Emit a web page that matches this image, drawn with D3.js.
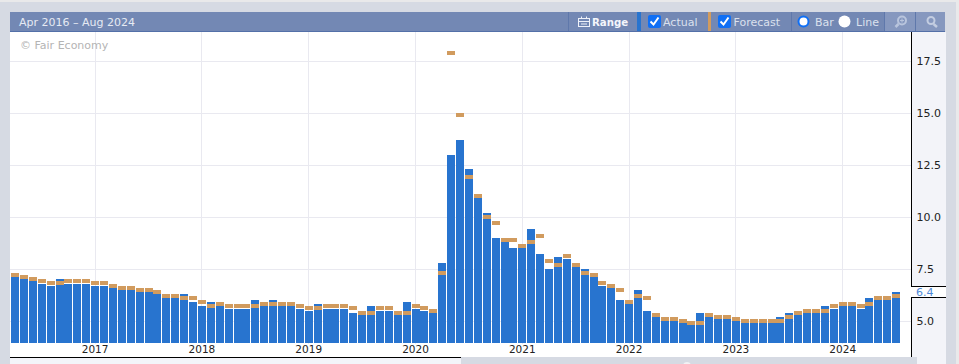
<!DOCTYPE html>
<html><head><meta charset="utf-8">
<script src="https://cdn.jsdelivr.net/npm/d3@7"></script>
<style>html,body{margin:0;padding:0;background:#d6dae3;overflow:hidden}svg{display:block}text{font-family:"DejaVu Sans",sans-serif}</style>
</head><body><div id="chart"></div>
<script>
const startMonth = new Date(2016, 3, 1);
const rangeLabel = "Apr 2016 – Aug 2024";
const actual = [7.1,7.0,6.9,6.8,6.7,7.0,6.8,6.8,6.8,6.7,6.7,6.6,6.5,6.5,6.4,6.4,6.3,6.1,6.1,6.3,5.9,5.7,5.9,5.7,5.6,5.6,5.6,6.0,5.7,6.0,5.7,5.7,5.6,5.5,5.8,5.6,5.6,5.6,5.4,5.4,5.7,5.5,5.5,5.4,5.9,5.6,5.5,5.45,7.8,13.0,13.7,12.3,10.9,10.2,9.0,8.8,8.5,8.5,9.4,8.2,7.5,8.1,8.0,7.6,7.5,7.1,6.7,6.6,6.0,5.8,6.5,5.5,5.2,5.0,5.0,4.9,4.8,5.4,5.2,5.1,5.1,5.0,4.9,4.9,4.9,4.9,5.2,5.4,5.3,5.4,5.4,5.7,5.6,5.7,5.7,5.6,6.1,6.0,6.0,6.4];
const forecast = [7.3,7.2,7.1,7.0,6.9,6.9,7.0,7.0,7.0,6.9,6.9,6.8,6.7,6.7,6.6,6.6,6.5,6.3,6.3,6.2,6.2,6.0,5.8,5.9,5.8,5.8,5.8,5.8,5.9,5.9,5.9,5.9,5.8,5.7,5.7,5.8,5.8,5.8,5.7,5.5,5.5,5.7,5.7,5.5,5.5,5.8,5.7,5.6,7.4,18.0,15.0,12.0,11.1,10.1,9.8,9.0,9.0,8.7,8.9,9.2,8.0,7.8,8.2,7.8,7.4,7.3,6.9,6.8,6.6,6.0,6.3,6.2,5.4,5.2,5.2,5.1,5.0,5.0,5.4,5.3,5.3,5.2,5.1,5.1,5.1,5.1,5.1,5.3,5.5,5.6,5.6,5.6,5.8,5.9,5.9,5.8,5.9,6.2,6.2,6.3];
const yTicks = [5,7.5,10,12.5,15,17.5];
const xYears = [2017,2018,2019,2020,2021,2022,2023,2024];
const lastValue = 6.4;

const W = 959, H = 364;
const months = d3.range(actual.length + 1).map(i => d3.timeMonth.offset(startMonth, i));
const x = d3.scaleBand().domain(months.map(Number)).range([10.55, 10.55 + 8.9 * months.length]);
const y = d3.scaleLinear().domain([5, 17.5]).range([321, 61]);
const base = y.invert(343);
const yPx = v => Math.round(y(v));

const svg = d3.select("#chart").append("svg").attr("width", W).attr("height", H);
// page frame
svg.append("rect").attr("width", W).attr("height", H).attr("fill", "#d6dae3");
svg.append("rect").attr("width", W).attr("height", 2).attr("fill", "#e9e9ea");
svg.append("rect").attr("x", 956).attr("width", 3).attr("height", H).attr("fill", "#e9e9ea");
// plot and axis panel
svg.append("rect").attr("x", 10).attr("y", 32).attr("width", 902).attr("height", 325).attr("fill", "#fff");
svg.append("rect").attr("x", 912).attr("y", 32).attr("width", 34).attr("height", 254).attr("fill", "#f3f4f9");
svg.append("rect").attr("x", 912).attr("y", 286).attr("width", 34).attr("height", 11).attr("fill", "#fff");
svg.append("rect").attr("x", 912).attr("y", 297).attr("width", 34).attr("height", 67).attr("fill", "#f3f4f9");
svg.append("rect").attr("x", 10).attr("y", 357).attr("width", 451).attr("height", 7).attr("fill", "#f3f4f9");

// grid
const g = svg.append("g").attr("shape-rendering", "crispEdges");
g.selectAll("line.h").data(yTicks).join("line").attr("class", "h")
  .attr("x1", 10).attr("x2", 911).attr("y1", d => y(d)).attr("y2", d => y(d))
  .attr("stroke", "#e9e9f0");
g.selectAll("line.v").data(xYears).join("line").attr("class", "v")
  .attr("x1", d => x(+new Date(d, 0, 1)) + x.bandwidth() / 2).attr("x2", d => x(+new Date(d, 0, 1)) + x.bandwidth() / 2)
  .attr("y1", 32).attr("y2", 344).attr("stroke", "#e9e9f0");

svg.append("text").attr("x", 20).attr("y", 49).attr("font-size", 11).attr("fill", "#b4b4b4").text("© Fair Economy");

// bars
const marks = svg.append("g").attr("shape-rendering", "crispEdges");
marks.selectAll("rect.a").data(actual).join("rect").attr("class", "a")
  .attr("x", (d, i) => x(+months[i]) + 0.45).attr("width", x.bandwidth() - 0.9)
  .attr("y", d => yPx(d)).attr("height", d => yPx(base) - yPx(d)).attr("fill", "#2874cf");
marks.selectAll("rect.f").data(forecast).join("rect").attr("class", "f")
  .attr("x", (d, i) => x(+months[i]) + 0.45).attr("width", x.bandwidth() - 0.9)
  .attr("y", d => yPx(d)).attr("height", 4).attr("fill", "#d19b5e");

// axes
const yAxis = svg.append("g").attr("transform", "translate(912,0)")
  .call(d3.axisRight(y).tickValues(yTicks).tickSize(0).tickPadding(4.5).tickFormat(d3.format(".1f")));
yAxis.select(".domain").remove();
yAxis.selectAll("text").attr("font-size", 11).attr("font-family", '"DejaVu Sans"').attr("fill", "#222");
const xAxis = svg.append("g").attr("transform", "translate(0,344)")
  .call(d3.axisBottom(x).tickValues(xYears.map(d => +new Date(d, 0, 1))).tickSize(0).tickPadding(1.5).tickFormat(d => new Date(d).getFullYear()));
xAxis.select(".domain").remove();
xAxis.selectAll("text").attr("font-size", 10.5).attr("font-family", '"DejaVu Sans"').attr("fill", "#222");
svg.append("text").attr("x", 916).attr("y", y(lastValue) + 4.5).attr("font-size", 11).attr("fill", "#4d88d8").text(d3.format(".1f")(lastValue));

// frame lines
const bl = svg.append("g").attr("fill", "none").attr("stroke", "#000").attr("shape-rendering", "crispEdges");
bl.append("path").attr("d", "M911.5,32V286.5H946");
bl.append("path").attr("d", "M946,297.5H911.5V357.5");
svg.append("rect").attr("x", 461).attr("y", 357).attr("width", 456).attr("height", 7).attr("fill", "#d6dae3");
svg.append("circle").attr("cx", 687).attr("cy", 366).attr("r", 4).attr("fill", "#f1f2f5");
bl.append("path").attr("d", "M10,357.5H461.5V364");
bl.append("path").attr("d", "M911,357.5H916.5V364");

// toolbar
const bar = svg.append("g").attr("shape-rendering", "crispEdges");
bar.append("rect").attr("x", 10).attr("y", 12).attr("width", 935).attr("height", 20).attr("fill", "#7388b4");
bar.append("rect").attr("x", 10).attr("y", 31).attr("width", 935).attr("height", 1).attr("fill", "#5470a8");
bar.append("rect").attr("x", 884).attr("y", 12).attr("width", 61).attr("height", 19).attr("fill", "#8698bf");
[568, 791, 884, 915].forEach(px => bar.append("rect").attr("x", px).attr("y", 12).attr("width", 1).attr("height", 19).attr("fill", "#5f78ab"));
bar.append("rect").attr("x", 637).attr("y", 12).attr("width", 4).attr("height", 19).attr("fill", "#2874cf");
bar.append("rect").attr("x", 708).attr("y", 12).attr("width", 3).attr("height", 19).attr("fill", "#d19b5e");
const label = (t, px, col, fw) => svg.append("text").attr("x", px).attr("y", 26).attr("font-size", 11).attr("fill", col).attr("font-weight", fw || "normal").text(t);
label(rangeLabel, 19, "#e6eaf3");
label("Range", 592, "#f4f6fb", "bold").attr("font-size", 10.2);
label("Actual", 663, "#dbe1ee");
label("Forecast", 733.5, "#dbe1ee");
label("Bar", 815, "#dbe1ee");
label("Line", 856, "#dbe1ee");
[648, 718].forEach(px => {
  svg.append("rect").attr("x", px).attr("y", 15).attr("width", 13).attr("height", 13).attr("rx", 2).attr("fill", "#0f6ff5");
  svg.append("path").attr("d", `M${px+2.5},${21.5}l3,3l5,-7`).attr("fill", "none").attr("stroke", "#fff").attr("stroke-width", 2);
});
svg.append("circle").attr("cx", 803.5).attr("cy", 21.5).attr("r", 5).attr("fill", "#fff").attr("stroke", "#0f6ff5").attr("stroke-width", 2);
svg.append("circle").attr("cx", 844.5).attr("cy", 21.5).attr("r", 6).attr("fill", "#fff");
// calendar icon
const cal = svg.append("g").attr("fill", "none").attr("stroke", "#eef1f8").attr("stroke-width", 1);
cal.append("rect").attr("x", 578.5).attr("y", 18.5).attr("width", 11).attr("height", 8);
cal.append("path").attr("d", "M578.5,21.5H589.5M581.5,16.5V19M586.5,16.5V19M581,24H587");
// zoom icons
const plusIcon = svg.append("g").attr("fill", "none").attr("stroke", "#b9c5dd").attr("stroke-width", 2);
plusIcon.append("circle").attr("cx", 902).attr("cy", 20.5).attr("r", 4);
plusIcon.append("path").attr("d", "M898.5,24l-3,3").attr("stroke-width", 2.5);
plusIcon.append("path").attr("d", "M900,20.5h4M902,18.5v4").attr("stroke-width", 1);
const minusIcon = svg.append("g").attr("fill", "none").attr("stroke", "#c3cde1").attr("stroke-width", 2);
minusIcon.append("circle").attr("cx", 931).attr("cy", 20.5).attr("r", 3.5);
minusIcon.append("path").attr("d", "M933.5,24l3.5,3").attr("stroke-width", 2.5);
</script></body></html>
